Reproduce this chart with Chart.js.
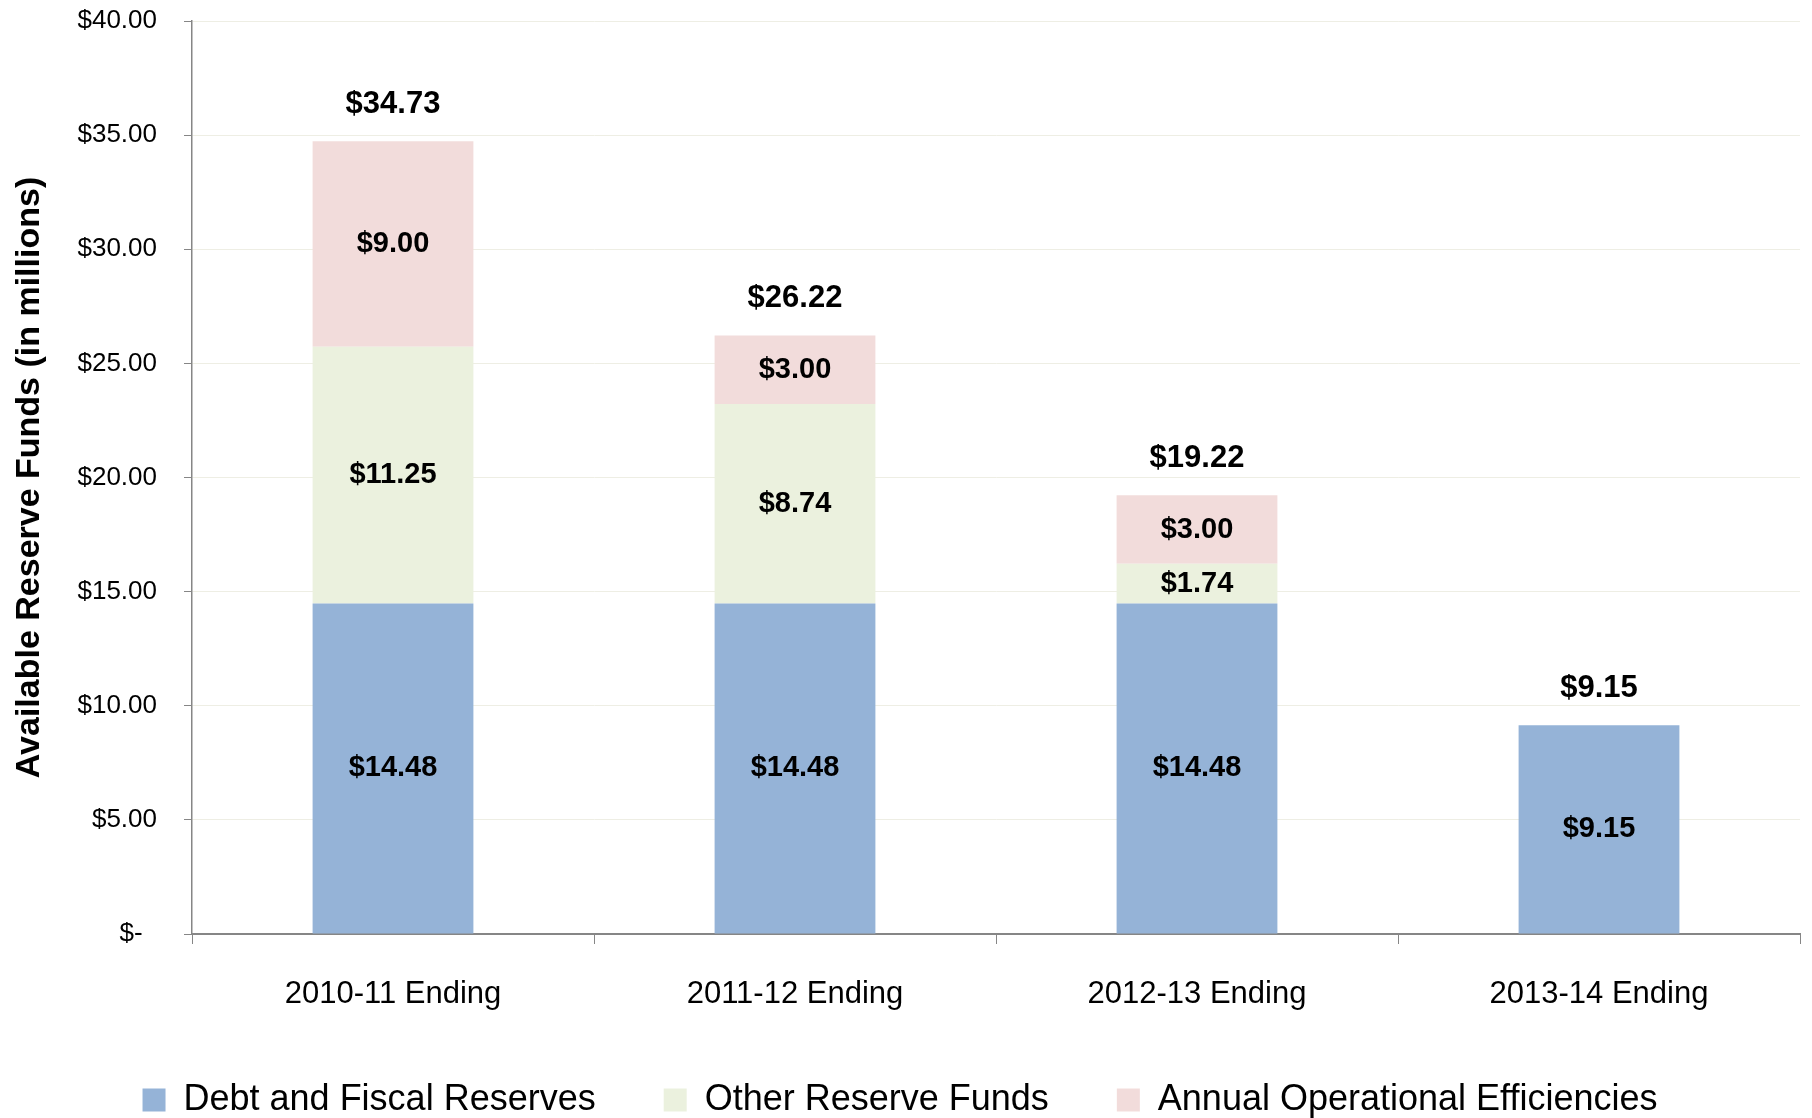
<!DOCTYPE html>
<html>
<head>
<meta charset="utf-8">
<script src="https://cdn.jsdelivr.net/npm/chart.js@4/dist/chart.umd.min.js"></script>
<style>
  html, body { margin: 0; padding: 0; background: #fff; }
  #wrap { width: 1812px; height: 1118px; }
</style>
</head>
<body>
<div id="wrap"><canvas id="reserve-chart" width="1812" height="1118"></canvas></div>
<script>
// 연도별 가용 준비금 (단위: 백만 달러)
const categories = ['2010-11 Ending', '2011-12 Ending', '2012-13 Ending', '2013-14 Ending'];
const debtFiscal = [14.48, 14.48, 14.48, 9.15];
const otherReserve = [11.25, 8.74, 1.74, 0];
const operational = [9.0, 3.0, 3.0, 0];
const seriesNames = ['Debt and Fiscal Reserves', 'Other Reserve Funds', 'Annual Operational Efficiencies'];
const yTicks = [0, 5, 10, 15, 20, 25, 30, 35, 40];

const FONT = '"Liberation Sans", Arial, sans-serif';
const money = (v) => (v === 0 ? '$-  ' : '$' + v.toFixed(2));

// 막대 안/위 값 표시
const valueLabels = {
  id: 'valueLabels',
  afterDatasetsDraw(chart) {
    const ctx = chart.ctx;
    ctx.save();
    ctx.fillStyle = '#000';
    ctx.textAlign = 'center';
    ctx.textBaseline = 'middle';
    ctx.font = 'bold 29px ' + FONT;
    chart.data.datasets.forEach((ds, i) => {
      chart.getDatasetMeta(i).data.forEach((bar, j) => {
        const v = ds.data[j];
        if (!v) return;
        ctx.fillText(money(v), bar.x, (bar.y + bar.base) / 2);
      });
    });
    // 합계
    ctx.font = 'bold 31px ' + FONT;
    const y = chart.scales.y;
    categories.forEach((c, j) => {
      const total = debtFiscal[j] + otherReserve[j] + operational[j];
      const x = chart.getDatasetMeta(0).data[j].x;
      ctx.fillText(money(total), x, y.getPixelForValue(total) - 37);
    });
    ctx.restore();
  },
};

new Chart(document.querySelector('#reserve-chart'), {
  type: 'bar',
  data: {
    labels: categories,
    datasets: [
      { label: seriesNames[0], data: debtFiscal, backgroundColor: '#95B3D7' },
      { label: seriesNames[1], data: otherReserve, backgroundColor: '#EBF1DE' },
      { label: seriesNames[2], data: operational, backgroundColor: '#F2DCDB' },
    ],
  },
  options: {
    responsive: false,
    animation: false,
    layout: { padding: { top: 21, right: 12, left: 0, bottom: 0 } },
    datasets: { bar: { categoryPercentage: 1, barPercentage: 0.4 } },
    plugins: {
      tooltip: { enabled: false },
      legend: {
        position: 'bottom',
        maxHeight: 104,
        labels: {
          color: '#000',
          font: { family: FONT, size: 36 },
          boxWidth: 23,
          boxHeight: 23,
          padding: 68,
        },
      },
    },
    scales: {
      x: {
        stacked: true,
        afterFit: (s) => { s.height = 80; s.paddingLeft = 0; s.paddingRight = 0; },
        border: { color: '#868686', width: 2 },
        grid: { drawOnChartArea: false, drawTicks: true, tickLength: 10, tickColor: '#868686', offset: true },
        ticks: { color: '#000', padding: 32, font: { family: FONT, size: 31 } },
      },
      y: {
        stacked: true,
        min: 0,
        max: 40,
        afterFit: (s) => { s.width = 192; s.paddingTop = 0; s.paddingBottom = 0; },
        afterBuildTicks: (s) => { s.ticks = yTicks.map((v) => ({ value: v })); },
        border: { color: '#868686', width: 1.5 },
        grid: { color: '#EEEEE4', lineWidth: 1, tickLength: 8, tickColor: '#868686' },
        ticks: {
          color: '#000',
          padding: 27,
          font: { family: FONT, size: 26 },
          callback: (v) => money(v),
        },
        title: {
          display: true,
          text: 'Available Reserve Funds (in millions)',
          color: '#000',
          font: { family: FONT, size: 34, weight: 'bold' },
          padding: { top: 9, bottom: 0 },
        },
      },
    },
  },
  plugins: [valueLabels],
});
</script>
</body>
</html>
